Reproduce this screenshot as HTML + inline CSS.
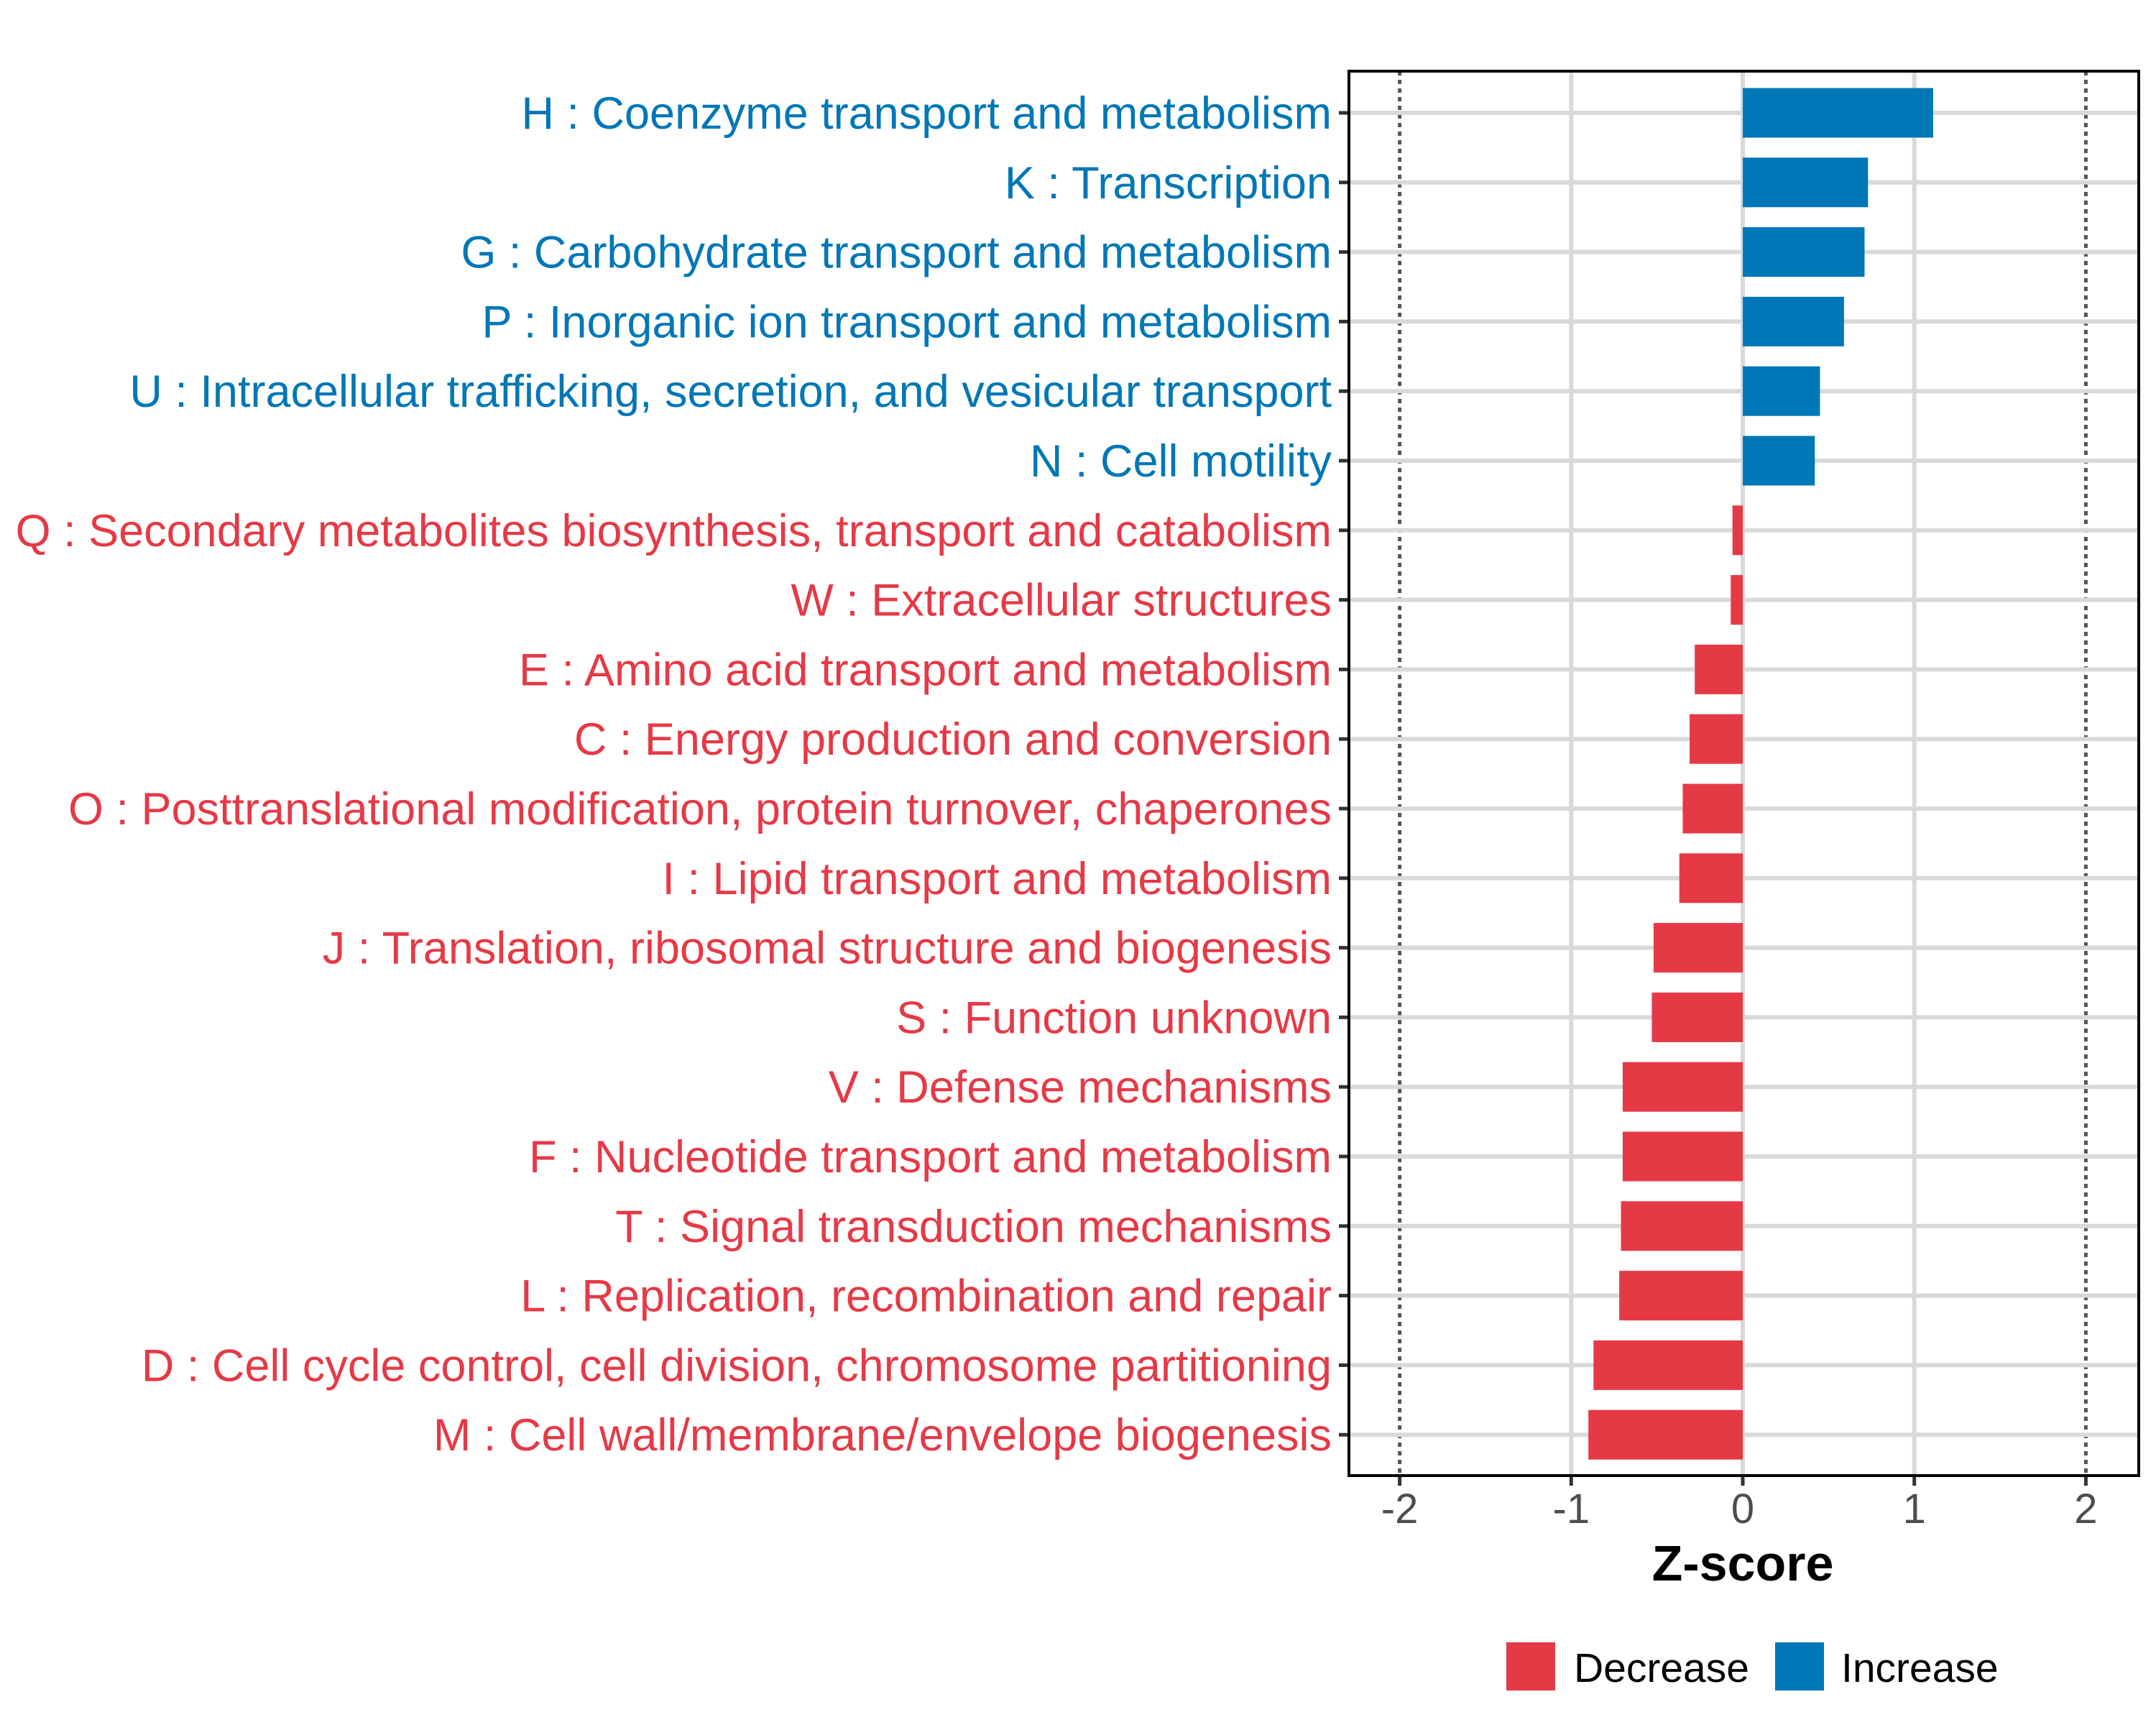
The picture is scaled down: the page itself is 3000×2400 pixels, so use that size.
<!DOCTYPE html>
<html><head><meta charset="utf-8"><style>body{margin:0;background:#fff}svg{display:block}</style></head>
<body>
<svg id="chart" width="3000" height="2400" xmlns="http://www.w3.org/2000/svg" font-family="Liberation Sans, sans-serif">
<rect width="3000" height="2400" fill="#fff"/>
<g id="grid"></g>
<g id="bars"></g>
<g id="ylabels"></g>
<g id="xaxis"></g>
<rect x="1877" y="99" width="1099" height="1954" fill="none" stroke="#000" stroke-width="4"/>
<text x="2425" y="2199" font-size="70" font-weight="bold" text-anchor="middle" fill="#000">Z-score</text>
<g>
<rect x="2096" y="2285" width="68" height="67" fill="#e63946"/>
<text x="2190" y="2340" font-size="57" fill="#000">Decrease</text>
<rect x="2470" y="2285" width="68" height="67" fill="#0077b6"/>
<text x="2562" y="2340" font-size="57" fill="#000">Increase</text>
</g>
</svg>
<script>
const categories = ["H : Coenzyme transport and metabolism","K : Transcription","G : Carbohydrate transport and metabolism","P : Inorganic ion transport and metabolism","U : Intracellular trafficking, secretion, and vesicular transport","N : Cell motility","Q : Secondary metabolites biosynthesis, transport and catabolism","W : Extracellular structures","E : Amino acid transport and metabolism","C : Energy production and conversion","O : Posttranslational modification, protein turnover, chaperones","I : Lipid transport and metabolism","J : Translation, ribosomal structure and biogenesis","S : Function unknown","V : Defense mechanisms","F : Nucleotide transport and metabolism","T : Signal transduction mechanisms","L : Replication, recombination and repair","D : Cell cycle control, cell division, chromosome partitioning","M : Cell wall/membrane/envelope biogenesis"];
const zscores = [1.11,0.73,0.71,0.59,0.45,0.42,-0.06,-0.07,-0.28,-0.31,-0.35,-0.37,-0.52,-0.53,-0.70,-0.70,-0.71,-0.72,-0.87,-0.90];
const xTicks = [-2,-1,0,1,2];
const xTickLabels = ["-2","-1","0","1","2"];
const NS="http://www.w3.org/2000/svg";
const X0=2425, UNIT=238.7, Y0=157, STEP=96.8, BH=69, PL=1877, PR=2976, PT=99, PB=2053;
const xs=v=>X0+v*UNIT;
const ys=i=>Y0+i*STEP;
function mk(tag,attrs,parent){const e=document.createElementNS(NS,tag);for(const k in attrs)e.setAttribute(k,attrs[k]);parent.appendChild(e);return e;}
const grid=document.getElementById('grid'),bars=document.getElementById('bars'),yl=document.getElementById('ylabels'),xa=document.getElementById('xaxis');
xTicks.forEach((t,i)=>{
  let g;
  if(Math.abs(t)===2){
    g=mk('line',{x1:xs(t),x2:xs(t),y1:PT,y2:PB,stroke:'#555',"stroke-width":5,"stroke-dasharray":"6,6"},grid);
  } else {
    g=mk('line',{x1:xs(t),x2:xs(t),y1:PT,y2:PB,stroke:'#d9d9d9',"stroke-width":6},grid);
  }
  
  
  const tk=mk('line',{x1:xs(t),x2:xs(t),y1:PB,y2:PB+14,stroke:'#333',"stroke-width":5},xa);
  
  
  const tl=mk('text',{x:xs(t),y:2119,"font-size":58,"text-anchor":"middle",fill:'#4d4d4d'},xa);
  
  
  tl.textContent=xTickLabels[i];
});
categories.forEach((c,i)=>{
  const y=ys(i);
  const gl=mk('line',{x1:PL,x2:PR,y1:y,y2:y,stroke:'#d9d9d9',"stroke-width":6},grid);
  
  
  const v=zscores[i];
  const col=v>=0?'#0077b6':'#e63946';
  const b=mk('rect',{x:Math.min(xs(0),xs(v)),y:y-BH/2,width:Math.abs(xs(v)-xs(0)),height:BH,fill:col},bars);
  
  
  const tk=mk('line',{x1:PL-14,x2:PL,y1:y,y2:y,stroke:'#333',"stroke-width":5},yl);
  
  
  const t=mk('text',{x:1853,y:y+22,"font-size":63,"text-anchor":"end",fill:col},yl);
  
  
  t.textContent=c;
});
</script>
</body></html>
